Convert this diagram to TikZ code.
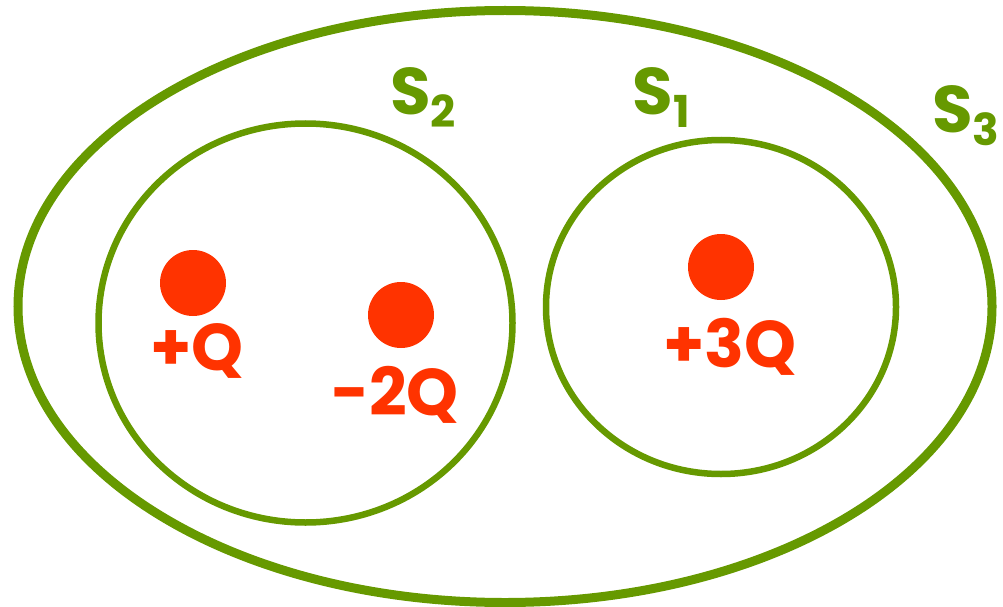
\documentclass[tikz,border=0pt]{standalone}
\usepackage{fontspec}
\setmainfont{Poppins}
\usepackage{tikz}

\definecolor{surfgreen}{HTML}{669900}
\definecolor{chargered}{HTML}{FF3300}

\begin{document}
\begin{tikzpicture}[x=1pt, y=-1pt]
        % Styles
        \tikzstyle{surface} = [draw=surfgreen, line width=6.5pt]
        \tikzstyle{outer} = [draw=surfgreen, line width=9pt]
        \tikzstyle{charge} = [fill=chargered]
        \tikzstyle{qlabel} = [text=chargered, font=\fontsize{66}{66}\selectfont\bfseries, anchor=base, inner sep=0pt]
        \tikzstyle{slabel} = [text=surfgreen, font=\fontsize{66}{66}\selectfont\bfseries, anchor=base, inner sep=0pt]
        \newcommand{\subidx}[1]{\lower13pt\hbox{\fontsize{44}{44}\selectfont\bfseries #1}}

        \useasboundingbox (0,0) rectangle (1003,607);

        % Surfaces
        \draw [outer] (505,306.5) ellipse [x radius=487, y radius=296];
        \draw [surface] (305.5,323) ellipse [x radius=207, y radius=199.5];
        \draw [surface] (721,307) ellipse [x radius=175, y radius=167];

        % Charges
        \fill [charge] (193,283) circle [radius=33];
        \fill [charge] (401,315) circle [radius=33];
        \fill [charge] (721,267) circle [radius=33];

        % Labels
        \node [qlabel] (q1) at (197,370) {+Q};
        \node [qlabel] (q2) at (395,415) {-2Q};
        \node [qlabel] (q3) at (730,367) {+3Q};
        \node [slabel] (s2) at (423,115) {S\subidx{2}};
        \node [slabel] (s1) at (661,115) {S\subidx{1}};
        \node [slabel] (s3) at (966,132) {S\subidx{3}};
\end{tikzpicture}
\end{document}
